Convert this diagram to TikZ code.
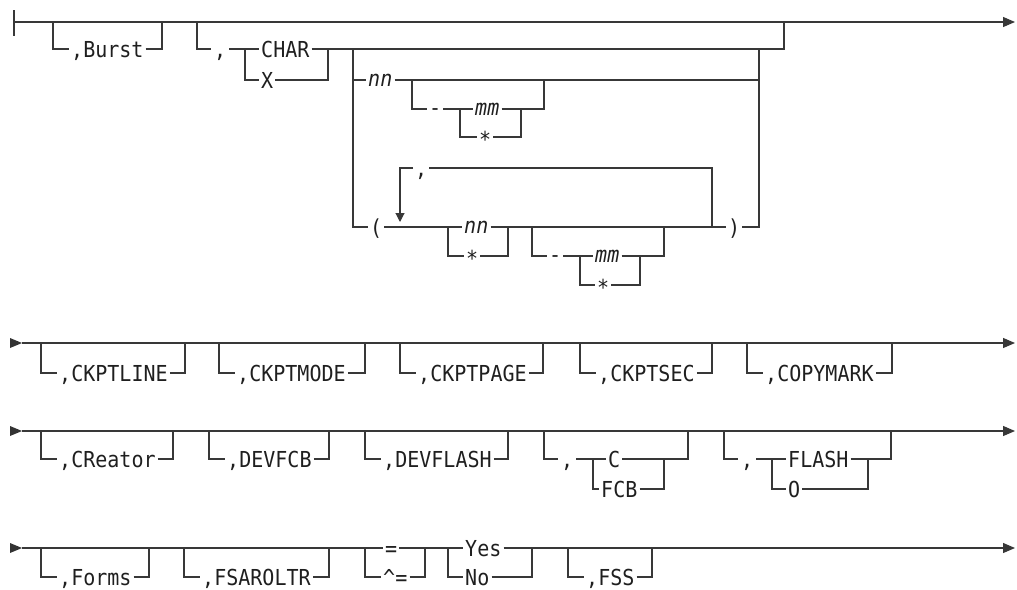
\documentclass[tikz,border=0pt]{standalone}
\usepackage{fontspec}
\newfontfamily\rr[FakeStretch=0.91]{DejaVu Sans Mono}
\newfontfamily\rri[FakeStretch=0.91]{DejaVu Sans Mono Oblique}
\usetikzlibrary{arrows.meta}
\tikzset{
  rail/.style={line width=1.1pt, draw=black!78},
  endtip/.style={-{Triangle[length=12pt,width=10pt]}},
  looptip/.style={-{Triangle[length=9pt,width=9pt]}},
  txt/.style={font=\fontsize{22}{22}\rr, inner xsep=2pt, inner ysep=0pt,
              text height=16pt, text depth=0pt, anchor=west, text=black!88},
  itx/.style={txt, font=\fontsize{22}{22}\rri, text height=12pt},
  starx/.style={txt, text height=21pt},
  dashx/.style={txt, text height=12pt},
  commax/.style={txt, inner xsep=3pt},
}
\newcommand\optbox[6]{%
  \node[txt] (#1) at (#2+16,#5) {#6};
  \draw[rail] (#2,#4) |- (#1.west);
  \draw[rail] (#1.east) -| (#3,#4);}
\newcommand\starttri[1]{\fill[black!80] (10,#1-5) -- (22,#1) -- (10,#1+5) -- cycle;}
\begin{document}
\begin{tikzpicture}[x=1pt,y=-1pt]
\useasboundingbox (0,0) rectangle (1017,589);
% ---------------- Row 1 ----------------
\coordinate (s1) at (14,22);
\coordinate (e1) at (1015,22);
\draw[rail] (14,10) -- (14,36);
\draw[rail,endtip] (s1) -- (e1);
\optbox{burst}{53}{162}{22}{49}{,Burst}
% , CHAR / X
\node[commax] (c2) at (211,49) {,};
\draw[rail] (197,22) |- (c2.west);
\node[txt] (char) at (259,49) {CHAR};
\node[txt] (xx) at (259,80) {X};
\draw[rail] (c2.east) -- (char.west);
\draw[rail] (245,49) |- (xx.west);
\draw[rail] (xx.east) -| (328,49);
\draw[rail] (char.east) -- (784,49) -- (784,22);
% nn [- mm/*]
\node[itx] (nn1) at (366,80) {nn};
\draw[rail] (353,49) |- (nn1.west);
\draw[rail] (nn1.east) -- (759,80);
\node[dashx] (d1) at (427,109) {-};
\node[itx] (mm1) at (473,109) {mm};
\node[starx] (st1) at (477,137) {*};
\draw[rail] (412,80) |- (d1.west);
\draw[rail] (d1.east) -- (mm1.west);
\draw[rail] (mm1.east) -| (544,80);
\draw[rail] (460,109) |- (st1.west);
\draw[rail] (st1.east) -| (521,109);
% ( ... )
\node[txt] (lp) at (368,227) {(};
\node[itx] (nn2) at (462,227) {nn};
\node[txt] (rp) at (726,227) {)};
\draw[rail] (353,49) |- (lp.west);
\draw[rail] (lp.east) -- (nn2.west);
\draw[rail] (nn2.east) -- (rp.west);
\draw[rail] (rp.east) -| (759,49);
% repeat loop
\node[txt] (rc) at (413,168) {,};
\draw[rail] (712,227) |- (rc.east);
\draw[rail,looptip] (rc.west) -| (400,222);
% nn / *
\node[starx] (st2) at (464,256) {*};
\draw[rail] (448,227) |- (st2.west);
\draw[rail] (st2.east) -| (508,227);
% - mm/*
\node[dashx] (d2) at (547,256) {-};
\node[itx] (mm2) at (593,256) {mm};
\node[starx] (st3) at (595,285) {*};
\draw[rail] (532,227) |- (d2.west);
\draw[rail] (d2.east) -- (mm2.west);
\draw[rail] (mm2.east) -| (664,227);
\draw[rail] (580,256) |- (st3.west);
\draw[rail] (st3.east) -| (640,256);
% ---------------- Row 2 ----------------
\starttri{343}
\coordinate (s2) at (22,343);
\coordinate (e2) at (1015,343);
\draw[rail,endtip] (s2) -- (e2);
\optbox{ckl}{41}{185}{343}{373}{,CKPTLINE}
\optbox{ckm}{219}{365}{343}{373}{,CKPTMODE}
\optbox{ckp}{400}{543}{343}{373}{,CKPTPAGE}
\optbox{cks}{580}{712}{343}{373}{,CKPTSEC}
\optbox{cpm}{747}{892}{343}{373}{,COPYMARK}
% ---------------- Row 3 ----------------
\starttri{431}
\coordinate (s3) at (22,431);
\coordinate (e3) at (1015,431);
\draw[rail,endtip] (s3) -- (e3);
\optbox{cre}{41}{173}{431}{459}{,CReator}
\optbox{dfcb}{209}{329}{431}{459}{,DEVFCB}
\optbox{dfl}{365}{508}{431}{459}{,DEVFLASH}
\node[commax] (c3) at (558,459) {,};
\node[txt] (cc) at (606,459) {C};
\node[txt] (fcb) at (599,489) {FCB};
\draw[rail] (544,431) |- (c3.west);
\draw[rail] (c3.east) -- (cc.west);
\draw[rail] (cc.east) -| (688,431);
\draw[rail] (593,459) |- (fcb.west);
\draw[rail] (fcb.east) -| (664,459);
\node[commax] (c4) at (738,459) {,};
\node[txt] (fla) at (786,459) {FLASH};
\node[txt] (oo) at (786,489) {O};
\draw[rail] (724,431) |- (c4.west);
\draw[rail] (c4.east) -- (fla.west);
\draw[rail] (fla.east) -| (891,431);
\draw[rail] (772,459) |- (oo.west);
\draw[rail] (oo.east) -| (868,459);
% ---------------- Row 4 ----------------
\starttri{548}
\coordinate (s4) at (22,548);
\coordinate (e4) at (1015,548);
\node[txt] (eq) at (383,548) {=};
\node[txt] (yes) at (463,548) {Yes};
\draw[rail] (s4) -- (eq.west);
\draw[rail] (eq.east) -- (yes.west);
\draw[rail,endtip] (yes.east) -- (e4);
\optbox{frm}{41}{149}{548}{577}{,Forms}
\optbox{fsa}{184}{329}{548}{577}{,FSAROLTR}
\node[txt] (neq) at (381,577) {\textasciicircum=};
\draw[rail] (365,548) |- (neq.west);
\draw[rail] (neq.east) -| (425,548);
\node[txt] (no) at (463,577) {No};
\draw[rail] (448,548) |- (no.west);
\draw[rail] (no.east) -| (532,548);
\optbox{fss}{568}{652}{548}{577}{,FSS}
\end{tikzpicture}
\end{document}
